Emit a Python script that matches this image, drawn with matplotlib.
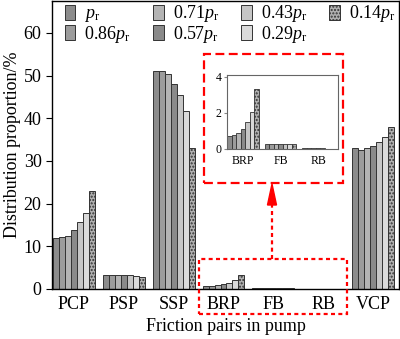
import matplotlib.pyplot as plt
import numpy as np
from matplotlib.patches import Rectangle, Polygon
from matplotlib.lines import Line2D

plt.rcParams['font.family'] = ['Liberation Serif', 'DejaVu Serif']
plt.rcParams['mathtext.fontset'] = 'custom'
plt.rcParams['mathtext.rm'] = 'Liberation Serif'
plt.rcParams['mathtext.it'] = 'Liberation Serif:italic'
plt.rcParams['hatch.color'] = '#555555'

# friction pairs and pressure levels
pairs = ['PCP', 'PSP', 'SSP', 'BRP', 'FB', 'RB', 'VCP']
levels = [r'$p_{\mathrm{r}}$', r'$0.86p_{\mathrm{r}}$', r'$0.71p_{\mathrm{r}}$',
          r'$0.57p_{\mathrm{r}}$', r'$0.43p_{\mathrm{r}}$', r'$0.29p_{\mathrm{r}}$',
          r'$0.14p_{\mathrm{r}}$']

# distribution proportion (%) per pressure level, one value per pair
pcp = [11.9, 12.1, 12.4, 13.8, 15.6, 17.8, 22.9]
psp = [3.3, 3.3, 3.3, 3.2, 3.2, 3.0, 2.7]
ssp = [51.1, 51.0, 50.3, 48.0, 45.4, 41.6, 33.1]
brp = [0.70, 0.78, 0.90, 1.12, 1.48, 2.05, 3.35]
fb = [0.30, 0.30, 0.29, 0.28, 0.27, 0.27, 0.25]
rb = [0.03, 0.03, 0.03, 0.03, 0.03, 0.02, 0.02]
vcp = [33.0, 32.6, 33.0, 33.5, 34.4, 35.5, 37.9]

data = np.array([pcp, psp, ssp, brp, fb, rb, vcp])  # shape (pairs, levels)

colors = ['#8c8c8c', '#9c9c9c', '#b4b4b4', '#8a8a8a', '#c6c6c6', '#dadada', '#b0b0b0']
hatches = [None, None, None, None, None, None, '.....']

fig = plt.figure(figsize=(4.0, 3.39), dpi=100)
ax = fig.add_axes([0.13, 0.1475, 0.8675, 0.85])

bw = 0.12
x = np.arange(len(pairs))
for i in range(len(levels)):
    off = (i - 3) * bw
    ax.bar(x + off, data[:, i], width=bw, color=colors[i], edgecolor='#333333',
           linewidth=0.7, hatch=hatches[i], label=levels[i])

ax.set_xlim(-0.44, 6.52)
ax.set_ylim(0, 67.5)
ax.set_yticks([0, 10, 20, 30, 40, 50, 60])
ax.set_xticks(x)
ax.set_xticklabels(pairs)
ax.tick_params(axis='x', length=0, labelsize=13, pad=5)
ax.tick_params(axis='y', direction='out', length=4, labelsize=13)
ax.set_ylabel('Distribution proportion/%', fontsize=13, labelpad=2)
ax.set_xlabel('Friction pairs in pump', fontsize=13, labelpad=4)
for s in ax.spines.values():
    s.set_linewidth(1.0)

ax.legend(ncol=4, loc='upper left', bbox_to_anchor=(0.0, 1.035), frameon=False,
          fontsize=13, handlelength=0.6, handleheight=0.9, handletextpad=0.5,
          columnspacing=1.2, labelspacing=-0.02, borderpad=0.2)

# inset for small pairs
ins = fig.add_axes([0.5675, 0.5605, 0.2775, 0.218])
sub = data[3:6]
xi = np.arange(3)
for i in range(len(levels)):
    off = (i - 3) * bw
    ins.bar(xi + off, sub[:, i], width=bw, color=colors[i], edgecolor='#333333',
            linewidth=0.6, hatch=hatches[i])
ins.set_xlim(-0.43, 2.53)
ins.set_ylim(0, 4.1)
ins.set_yticks([0, 2, 4])
ins.set_xticks(xi)
ins.set_xticklabels(pairs[3:6])
ins.tick_params(axis='x', length=0, labelsize=8.5, pad=4)
ins.tick_params(axis='y', length=2, labelsize=8.5, pad=2, color='#888888')
for s in ins.spines.values():
    s.set_linewidth(0.8)
    s.set_color('#666666')

# red dashed frames and arrow (figure pixel coords)
W, H = 400.0, 339.0
def fx(px):
    return px / W
def fy(py):
    return 1 - py / H

fig.patches.append(Rectangle((fx(204), fy(183)), fx(343) - fx(204), fy(54) - fy(183),
                             transform=fig.transFigure, fill=False, edgecolor='red',
                             linewidth=1.6, linestyle=(0, (4, 2))))
fig.patches.append(Rectangle((fx(199), fy(314)), fx(347) - fx(199), fy(259) - fy(314),
                             transform=fig.transFigure, fill=False, edgecolor='red',
                             linewidth=1.6, linestyle=(0, (1.8, 1.5))))
fig.lines.append(Line2D([fx(272), fx(272)], [fy(259), fy(204)], transform=fig.transFigure,
                        color='red', linewidth=1.6, linestyle=(0, (1.8, 1.5))))
fig.patches.append(Polygon([(fx(267.5), fy(205)), (fx(276.5), fy(205)), (fx(272), fy(184))],
                           closed=True, transform=fig.transFigure, color='red'))

fig.savefig('out.png', dpi=100)
